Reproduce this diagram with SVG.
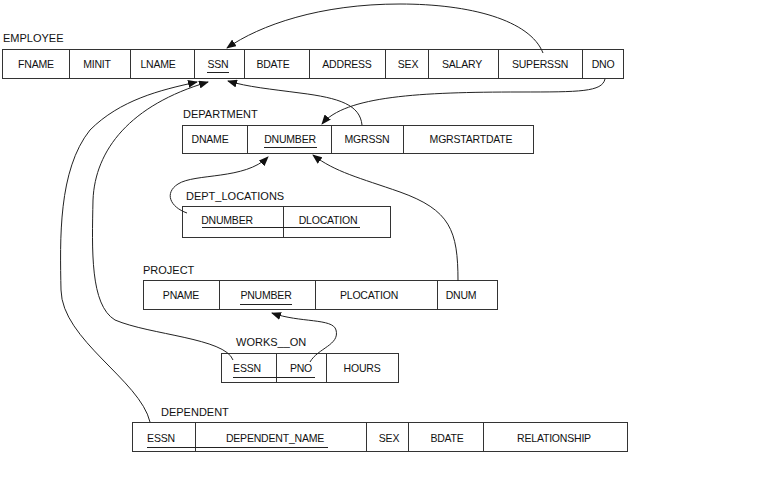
<svg xmlns="http://www.w3.org/2000/svg" width="768" height="480" viewBox="0 0 768 480">
<style>
text{font-family:"Liberation Sans",Arial,sans-serif;fill:#111}
.lbl{font-size:11px}
.c{font-size:10.5px;letter-spacing:-0.2px;text-anchor:middle}
.box{fill:#fff;stroke:#333;stroke-width:1}
.div{stroke:#333;stroke-width:1}
.ul{stroke:#222;stroke-width:1}
.con{fill:none;stroke:#222;stroke-width:1}
</style>
<defs>
<marker id="ah" markerWidth="10" markerHeight="8" refX="9" refY="4" orient="auto" markerUnits="userSpaceOnUse">
<path d="M0,0 L10,4 L0,8 Z" fill="#111"/>
</marker>
</defs>
<rect width="768" height="480" fill="#fff"/>

<g id="employee">
<text class="lbl" x="3" y="42">EMPLOYEE</text>
<rect class="box" x="2.5" y="49.5" width="621" height="29"/>
<path class="div" d="M69.5,49.5V78.5M130.5,49.5V78.5M194.5,49.5V78.5M244.5,49.5V78.5M309.5,49.5V78.5M385.5,49.5V78.5M428.5,49.5V78.5M498.5,49.5V78.5M582.5,49.5V78.5"/>
<text class="c" x="36" y="68">FNAME</text>
<text class="c" x="97" y="68">MINIT</text>
<text class="c" x="158" y="68">LNAME</text>
<text class="c" x="218" y="68">SSN</text>
<text class="c" x="273" y="68">BDATE</text>
<text class="c" x="347" y="68">ADDRESS</text>
<text class="c" x="408" y="68">SEX</text>
<text class="c" x="462" y="68">SALARY</text>
<text class="c" x="540" y="68">SUPERSSN</text>
<text class="c" x="603" y="68">DNO</text>
<line class="ul" x1="207" y1="72.5" x2="229" y2="72.5"/>
</g>

<g id="department">
<text class="lbl" x="183" y="118">DEPARTMENT</text>
<rect class="box" x="182.5" y="125.5" width="351" height="28"/>
<path class="div" d="M247.5,125.5V153.5M331.5,125.5V153.5M403.5,125.5V153.5"/>
<text class="c" x="210" y="143">DNAME</text>
<text class="c" x="290" y="143">DNUMBER</text>
<text class="c" x="367" y="143">MGRSSN</text>
<text class="c" x="471" y="143">MGRSTARTDATE</text>
<line class="ul" x1="264" y1="147.5" x2="317" y2="147.5"/>
</g>

<g id="dept_locations">
<text class="lbl" x="186" y="200">DEPT_LOCATIONS</text>
<rect class="box" x="182.5" y="206.5" width="208" height="31"/>
<path class="div" d="M283.5,206.5V237.5"/>
<text class="c" x="227" y="224">DNUMBER</text>
<text class="c" x="328" y="224">DLOCATION</text>
<line class="ul" x1="202" y1="227.5" x2="360" y2="227.5"/>
</g>

<g id="project">
<text class="lbl" x="143" y="274">PROJECT</text>
<rect class="box" x="143.5" y="280.5" width="354" height="29"/>
<path class="div" d="M219.5,280.5V309.5M315.5,280.5V309.5M437.5,280.5V309.5"/>
<text class="c" x="181" y="299">PNAME</text>
<text class="c" x="266" y="299">PNUMBER</text>
<text class="c" x="369" y="299">PLOCATION</text>
<text class="c" x="461" y="299">DNUM</text>
<line class="ul" x1="240" y1="304.5" x2="292" y2="304.5"/>
</g>

<g id="works_on">
<text class="lbl" x="236" y="346">WORKS__ON</text>
<rect class="box" x="221.5" y="353.5" width="177" height="29"/>
<path class="div" d="M276.5,353.5V382.5M326.5,353.5V382.5"/>
<text class="c" x="247" y="372">ESSN</text>
<text class="c" x="301" y="372">PNO</text>
<text class="c" x="362" y="372">HOURS</text>
<line class="ul" x1="233" y1="377.5" x2="315" y2="377.5"/>
</g>

<g id="dependent">
<text class="lbl" x="161" y="416">DEPENDENT</text>
<rect class="box" x="132.5" y="422.5" width="495" height="29"/>
<path class="div" d="M195.5,422.5V451.5M366.5,422.5V451.5M408.5,422.5V451.5M483.5,422.5V451.5"/>
<text class="c" x="161" y="442">ESSN</text>
<text class="c" x="275" y="442">DEPENDENT_NAME</text>
<text class="c" x="389" y="442">SEX</text>
<text class="c" x="447" y="442">BDATE</text>
<text class="c" x="554" y="442">RELATIONSHIP</text>
<line class="ul" x1="147" y1="447.5" x2="328" y2="447.5"/>
</g>

<g id="connectors">
<path class="con" marker-end="url(#ah)" d="M543,53 C530,20 470,4 400,4 C320,4 260,25 227,48"/>
<path class="con" marker-end="url(#ah)" d="M605,79 C602,92 580,92 520,92 C420,92 345,96 322,124"/>
<path class="con" marker-end="url(#ah)" d="M362,125 C360,105 340,98 300,93 C270,89 248,87 228,81"/>
<path class="con" marker-end="url(#ah)" d="M187,213 C170,207 164,193 178,184 C195,173 245,180 268,157"/>
<path class="con" marker-end="url(#ah)" d="M458,281 C458,230 450,210 400,192 C360,178 335,172 313,155"/>
<path class="con" marker-end="url(#ah)" d="M310,362 C318,348 340,345 336,330 C333,318 300,323 272,313"/>
<path class="con" marker-end="url(#ah)" d="M233,360 C225,338 150,335 115,320 C90,305 92,250 93,200 C95,150 130,105 208,82"/>
<path class="con" marker-end="url(#ah)" d="M150,422 C140,380 62,340 61,290 C60,240 58,170 90,130 C120,100 160,90 197,82"/>
</g>
</svg>
